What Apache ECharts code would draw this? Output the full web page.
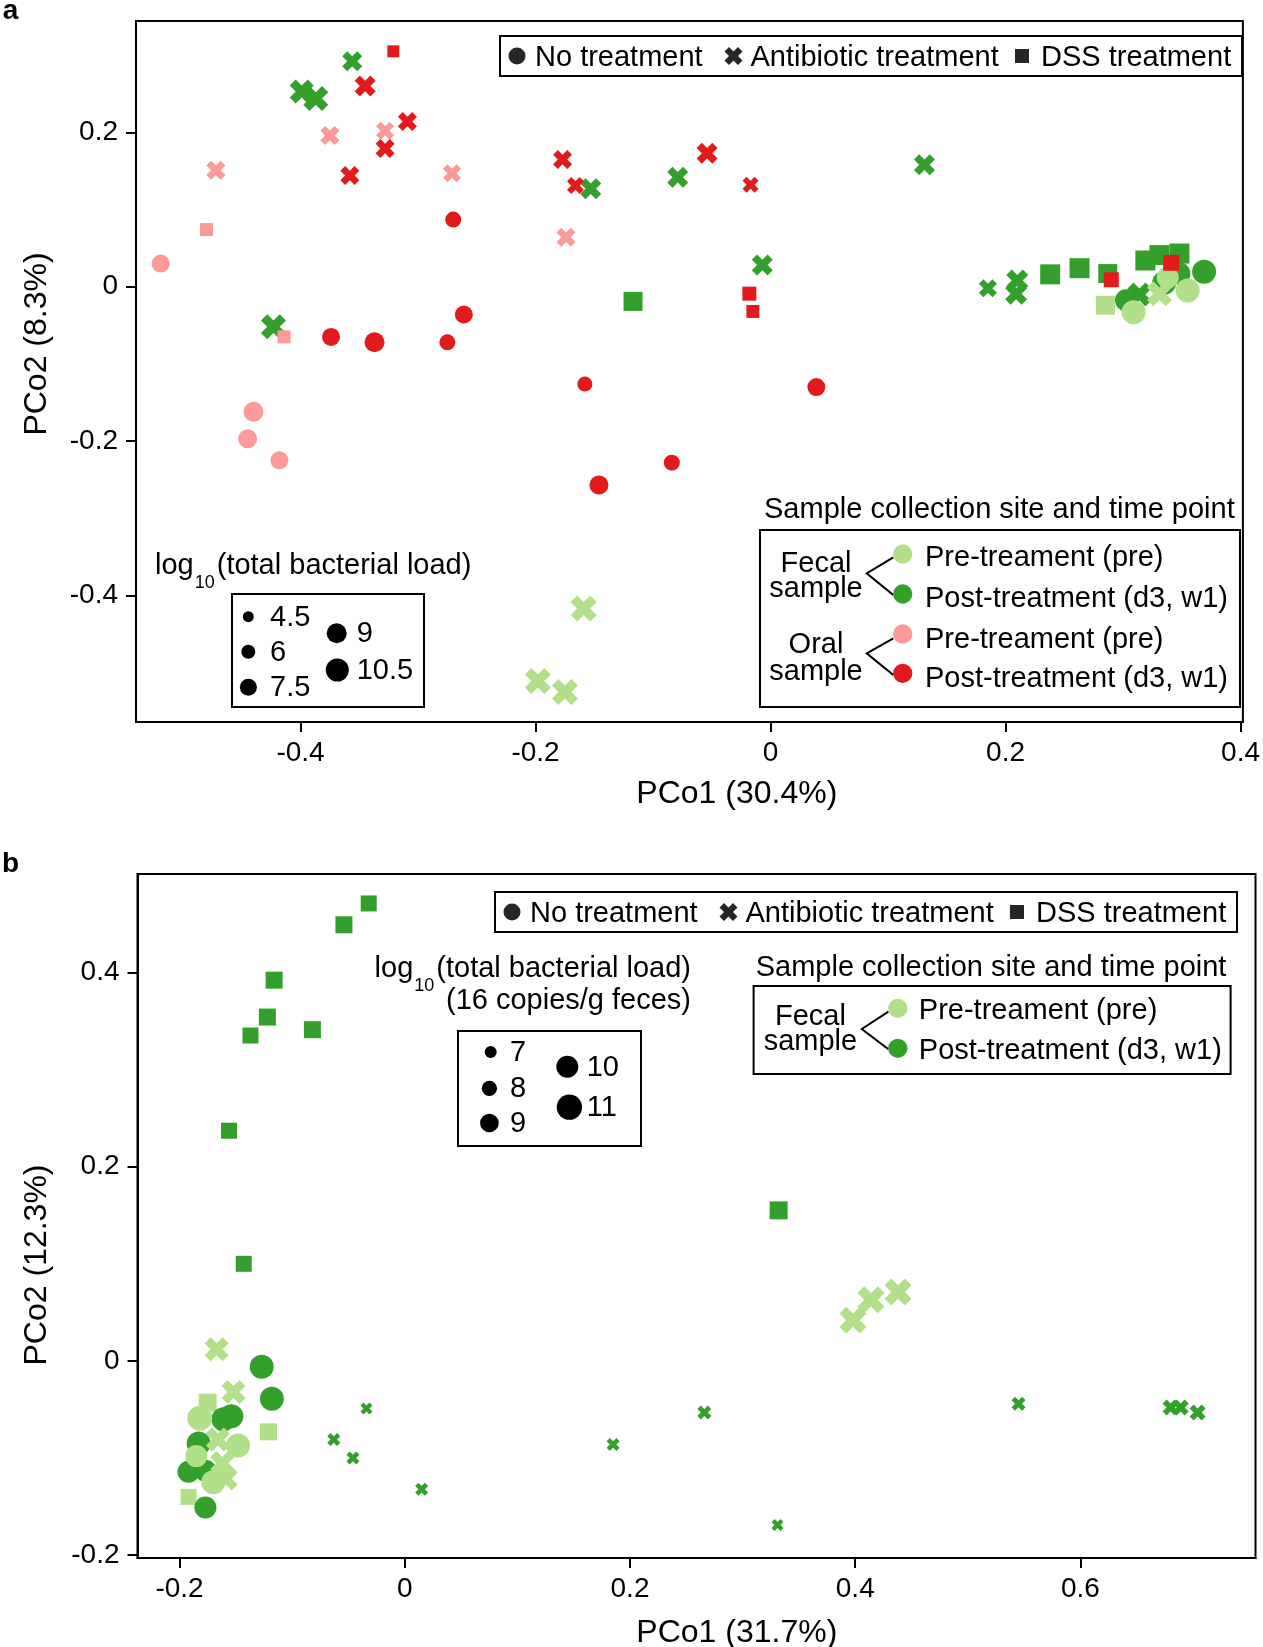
<!DOCTYPE html>
<html><head><meta charset="utf-8">
<script src="https://cdn.jsdelivr.net/npm/echarts@6/dist/echarts.min.js"></script>
<style>html,body{margin:0;padding:0;background:#fff}#c{width:1263px;height:1647px}</style>
</head><body><div id="c"></div>
<script>
// ---------------- DATA ----------------
// each point: [PCo1, PCo2, log10 total bacterial load]
// Panel a
const a_fecalPre_none  = [[0.309,-0.033,11],[0.355,-0.005,11],[0.338,0.012,10]];
const a_fecalPre_abx   = [[0.331,-0.009,11.5],[-0.159,-0.417,12],[-0.198,-0.511,12],[-0.175,-0.525,12]];
const a_fecalPre_dss   = [[0.285,-0.024,8.5]];
const a_fecalPost_none = [[0.3025,-0.0175,10],[0.369,0.0195,11],[0.335,0.005,11],[0.348,0.017,10]];
const a_fecalPost_abx  = [[-0.356,0.292,9],[-0.399,0.253,11],[-0.387,0.244,11.5],[-0.423,-0.052,11.5],
  [-0.153,0.127,9.5],[-0.079,0.142,9.5],[-0.007,0.028,9.5],[0.131,0.158,9.5],[0.185,-0.002,8],
  [0.210,0.008,10],[0.209,-0.009,10],[0.314,-0.010,11]];
const a_fecalPost_dss  = [[-0.117,-0.019,8.5],[0.238,0.016,9],[0.263,0.024,9],[0.287,0.017,8.5],
  [0.319,0.034,9],[0.331,0.041,9],[0.348,0.043,9]];
const a_oralPre_none   = [[-0.519,0.030,8],[-0.440,-0.162,9],[-0.445,-0.197,8.5],[-0.418,-0.225,8]];
const a_oralPre_abx    = [[-0.472,0.151,8.5],[-0.375,0.196,8.5],[-0.328,0.202,8],[-0.271,0.147,8],[-0.174,0.064,8.5]];
const a_oralPre_dss    = [[-0.480,0.074,5.5],[-0.414,-0.065,5.5]];
const a_oralPost_none  = [[-0.270,0.087,7],[-0.374,-0.065,8],[-0.337,-0.072,9],[-0.275,-0.072,7],
  [-0.261,-0.036,8],[0.039,-0.130,8],[-0.158,-0.126,6.5],[-0.084,-0.228,7],[-0.146,-0.257,8.5]];
const a_oralPost_abx   = [[-0.345,0.260,9.5],[-0.309,0.214,8.5],[-0.328,0.179,8.5],[-0.358,0.144,8.5],
  [-0.177,0.165,8.5],[-0.166,0.131,7.5],[-0.054,0.173,9.5],[-0.017,0.132,7]];
const a_oralPost_dss   = [[-0.321,0.305,5],[-0.018,-0.009,6],[-0.015,-0.032,5.5],[0.290,0.009,6.5],[0.341,0.031,7]];
// Panel b
const b_fecalPre_none  = [[-0.182,-0.059,10.9],[-0.148,-0.087,10.6],[-0.170,-0.125,10.6],[-0.185,-0.098,10]];
const b_fecalPre_abx   = [[0.398,0.042,11.5],[0.414,0.063,11.5],[0.438,0.071,11.5],[-0.167,0.012,10.6],
  [-0.152,-0.032,10.6],[-0.166,-0.081,10.6],[-0.159,-0.121,10.6],[-0.162,-0.105,10.6]];
const b_fecalPre_dss   = [[-0.175,-0.043,8.8],[-0.121,-0.073,8.5],[-0.192,-0.140,8.2]];
const b_fecalPost_none = [[-0.127,-0.006,10.6],[-0.118,-0.039,10.6],[-0.154,-0.057,10.6],[-0.161,-0.060,10.6],
  [-0.183,-0.085,10.6],[-0.192,-0.114,10],[-0.177,-0.113,10],[-0.177,-0.151,10]];
const b_fecalPost_abx  = [[0.545,-0.044,7.6],[0.680,-0.048,8.2],[0.689,-0.048,8.2],[0.704,-0.053,8.2],
  [0.266,-0.053,7.6],[-0.063,-0.081,7.3],[-0.034,-0.049,7],[-0.046,-0.100,7.3],[0.015,-0.132,7.3],
  [0.185,-0.086,7.3],[0.331,-0.169,7]];
const b_fecalPost_dss  = [[-0.032,0.471,8.2],[-0.054,0.449,8.5],[-0.116,0.392,8.5],[-0.122,0.354,8.5],
  [-0.137,0.335,8.2],[-0.082,0.341,8.5],[-0.156,0.237,8.2],[-0.143,0.100,8.2],[0.332,0.155,8.8]];

// Ticks and legend values
const a_xTicks = [-0.4,-0.2,0,0.2,0.4];
const a_yTicks = [-0.4,-0.2,0,0.2];
const b_xTicks = [-0.2,0,0.2,0.4,0.6];
const b_yTicks = [-0.2,0,0.2,0.4];
const a_loadLegend = [4.5,6,7.5,9,10.5];
const b_loadLegend = [7,8,9,10,11];
const treatmentLabels = ['No treatment','Antibiotic treatment','DSS treatment'];
const siteLabels = ['Pre-treament (pre)','Post-treatment (d3, w1)'];

// ---------------- STYLE ----------------
const C_LG='#b2df8a', C_G='#33a02c', C_P='#fb9a99', C_R='#e31a1c', C_K='#262626';
const FF='"Liberation Sans", Arial, Helvetica, sans-serif';
const CROSS='path://M0,2.5L2.5,0L5,2.5L7.5,0L10,2.5L7.5,5L10,7.5L7.5,10L5,7.5L2.5,10L0,7.5L2.5,5Z';
const sizeA = l => 11 + (l-4.5)*2;
const sizeB = l => 12 + (l-7)*3.33;
const DY = 2; // vertical nudge for legend texts

const cv=document.createElement('canvas').getContext('2d');
function tw(s,size,w){cv.font=(w||'normal')+' '+size+'px "Liberation Sans", Arial';return cv.measureText(s).width;}
function font(size,w){return (w||'normal')+' '+size+'px '+FF;}
function T(x,y,s,size,align,extra,weight){
  return Object.assign({type:'text',x:x,y:y+DY,z:100,silent:true,style:{text:s,fill:'#000',font:font(size,weight),
    textAlign:align||'left',textVerticalAlign:'middle',align:align||'left',verticalAlign:'middle'}},extra||{});
}
function circ(cx,cy,d,c){return {type:'circle',z:100,silent:true,shape:{cx:cx,cy:cy,r:d/2},style:{fill:c}};}
function sq(cx,cy,d,c){return {type:'rect',z:100,silent:true,shape:{x:cx-d/2,y:cy-d/2,width:d,height:d},style:{fill:c}};}
function crossG(cx,cy,d,c){
  const p=[[0,2.5],[2.5,0],[5,2.5],[7.5,0],[10,2.5],[7.5,5],[10,7.5],[7.5,10],[5,7.5],[2.5,10],[0,7.5],[2.5,5]];
  return {type:'polygon',z:100,silent:true,shape:{points:p.map(q=>[cx-d/2+q[0]*d/10,cy-d/2+q[1]*d/10])},style:{fill:c}};
}
function box(x,y,w,h){return {type:'rect',z:99,silent:true,shape:{x:x,y:y,width:w,height:h},style:{fill:'#fff',stroke:'#000',lineWidth:2}};}
function bracket(vx,vy,ex,y1,y2){return {type:'polyline',z:100,silent:true,shape:{points:[[ex,y1],[vx,vy],[ex,y2]]},style:{stroke:'#000',lineWidth:2,fill:null}};}

const G=[];
const FS=29, SUB=18;
// panel labels
G.push(T(10.5,9,'a',28,'center',null,'bold'));
G.push(T(10.5,862,'b',28,'center',null,'bold'));

// treatment legends
function treatLegend(x0,y0){
  G.push(box(x0,y0,742,40));
  const cy=y0+20;
  G.push(circ(x0+17,cy,17,C_K)); G.push(T(x0+35,cy,treatmentLabels[0],FS));
  G.push(crossG(x0+233.5,cy,18,C_K)); G.push(T(x0+250.5,cy,treatmentLabels[1],FS));
  G.push(sq(x0+522,cy,14,C_K)); G.push(T(x0+541,cy,treatmentLabels[2],FS));
}
treatLegend(500,36);
treatLegend(495,892);

// size legend a
(function(){
  let x=155, y=564;
  G.push(T(x,y,'log',FS)); x+=tw('log',FS)+1;
  G.push(T(x,y+17,'10',SUB)); x+=tw('10',SUB)+2;
  G.push(T(x,y,'(total bacterial load)',FS));
  G.push(box(232,594,192,113));
  const pos=[[248.3,616.7],[248.3,651.7],[248.4,687.3],[336.7,633.3],[337.3,670]];
  a_loadLegend.forEach((l,i)=>{
    G.push(circ(pos[i][0],pos[i][1],sizeA(l),'#000'));
    G.push(T(i<3?270:356.7,pos[i][1]-1,String(l),FS));
  });
})();
// size legend b
(function(){
  const right=691, y=967;
  const w3=tw('(total bacterial load)',FS), w2=tw('10',SUB), w1=tw('log',FS);
  let x=right-w3;
  G.push(T(x,y,'(total bacterial load)',FS));
  x-=w2+2; G.push(T(x,y+17,'10',SUB));
  x-=w1+1; G.push(T(x,y,'log',FS));
  G.push(T(right,999,'(16 copies/g feces)',FS,'right'));
  G.push(box(458,1031,183,115));
  const pos=[[490.7,1052],[489.4,1088.3],[489.4,1123],[567.3,1066.7],[569.4,1107.2]];
  b_loadLegend.forEach((l,i)=>{
    G.push(circ(pos[i][0],pos[i][1],sizeB(l),'#000'));
    G.push(T(i<3?510:586.7,pos[i][1]-1,String(l),FS));
  });
})();
// site legend a
G.push(T(764,508,'Sample collection site and time point',FS));
G.push(box(760,530,480,177));
G.push(T(816,562,'Fecal',FS,'center')); G.push(T(816,587,'sample',FS,'center'));
G.push(T(816,643,'Oral',FS,'center')); G.push(T(816,670,'sample',FS,'center'));
G.push(bracket(866.7,573.3,893.3,557.3,595));
G.push(bracket(866.7,653.3,893.3,638.3,675));
G.push(circ(902.7,554,19.3,C_LG)); G.push(circ(902.7,594,19.3,C_G));
G.push(circ(902.7,634,19.3,C_P)); G.push(circ(902.7,673.3,19.3,C_R));
G.push(T(925,556,siteLabels[0],FS)); G.push(T(925,597,siteLabels[1],FS));
G.push(T(925,638,siteLabels[0],FS)); G.push(T(925,677,siteLabels[1],FS));
// site legend b
G.push(T(755.7,966,'Sample collection site and time point',FS));
G.push(box(753.6,986,477,88));
G.push(T(810.4,1014.6,'Fecal',FS,'center')); G.push(T(810.4,1040,'sample',FS,'center'));
G.push(bracket(861.8,1029,888.4,1011.6,1049.3));
G.push(circ(897.8,1008.3,19.3,C_LG)); G.push(circ(897.8,1048.3,19.3,C_G));
G.push(T(918.8,1009,siteLabels[0],FS)); G.push(T(918.8,1049,siteLabels[1],FS));
// axis names
G.push(T(736.8,792.5,'PCo1 (30.4%)',32,'center'));
G.push(T(736.8,1631.4,'PCo1 (31.7%)',32,'center'));
G.push(T(36.8,342,'PCo2 (8.3%)',32,'center',{rotation:Math.PI/2}));
G.push(T(36.8,1263,'PCo2 (12.3%)',32,'center',{rotation:Math.PI/2}));

// ---------------- CHART ----------------
const fmt = v => { const r=Math.round(v*10)/10; return r===0?'0':String(r); };
function axis(gi,min,max,ticks,isY){
  return {gridIndex:gi,type:'value',min:min,max:max,
    axisLine:{show:true,onZero:false,lineStyle:{color:'#000',width:2}},
    axisTick:{show:true,inside:false,length:10,lineStyle:{color:'#000',width:2},customValues:ticks},
    axisLabel:{show:true,customValues:ticks,formatter:fmt,fontSize:28,color:'#000',fontFamily:FF,margin:isY?18:17},
    splitLine:{show:false}};
}
function S(data,sym,color,gi,sf){
  return {type:'scatter',xAxisIndex:gi,yAxisIndex:gi,data:data,symbol:sym,
    symbolSize:v=>sf(v[2]),itemStyle:{color:color,opacity:1},silent:true,emphasis:{disabled:true},animation:false};
}
const series=[
  S(a_fecalPost_dss,'rect',C_G,0,sizeA), S(a_fecalPost_abx,CROSS,C_G,0,sizeA), S(a_fecalPost_none,'circle',C_G,0,sizeA),
  S(a_fecalPre_dss,'rect',C_LG,0,sizeA), S(a_fecalPre_abx,CROSS,C_LG,0,sizeA), S(a_fecalPre_none,'circle',C_LG,0,sizeA),
  S(a_oralPre_dss,'rect',C_P,0,sizeA), S(a_oralPre_abx,CROSS,C_P,0,sizeA), S(a_oralPre_none,'circle',C_P,0,sizeA),
  S(a_oralPost_dss,'rect',C_R,0,sizeA), S(a_oralPost_abx,CROSS,C_R,0,sizeA), S(a_oralPost_none,'circle',C_R,0,sizeA),
  S(b_fecalPost_dss,'rect',C_G,1,sizeB), S(b_fecalPost_abx,CROSS,C_G,1,sizeB),
  S(b_fecalPre_dss,'rect',C_LG,1,sizeB), S(b_fecalPost_none,'circle',C_G,1,sizeB),
  S(b_fecalPre_none,'circle',C_LG,1,sizeB), S(b_fecalPre_abx,CROSS,C_LG,1,sizeB)
];
const chart=echarts.init(document.getElementById('c'),null,{renderer:'canvas'});
chart.setOption({
  animation:false,backgroundColor:'#fff',
  grid:[{left:136,top:21,width:1109,height:701,show:true,borderColor:'#000',borderWidth:2},
        {left:137.5,top:874,width:1118,height:684,show:true,borderColor:'#000',borderWidth:2}],
  xAxis:[axis(0,-0.540,0.402,a_xTicks,false),axis(1,-0.2373,0.7554,b_xTicks,false)],
  yAxis:[axis(0,-0.564,0.3443,a_yTicks,true),axis(1,-0.2029,0.5013,b_yTicks,true)],
  series:series,
  graphic:{elements:G}
});
</script></body></html>
